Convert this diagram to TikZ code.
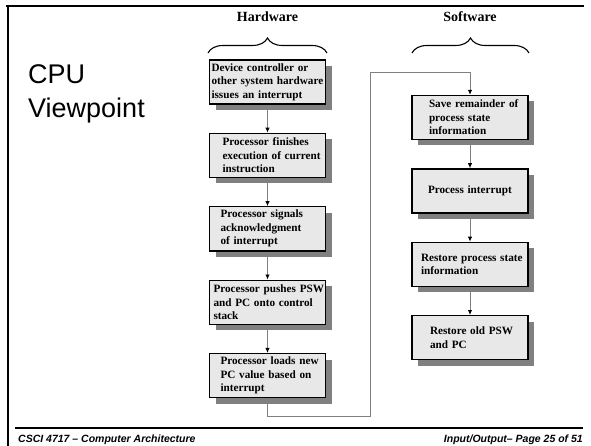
\documentclass[tikz,border=0pt]{standalone}
\usepackage{fontspec}
\setmainfont{Liberation Serif}
\setsansfont{Liberation Sans}
\usetikzlibrary{positioning,shadows,arrows.meta,decorations.pathreplacing}

\begin{document}
\begin{tikzpicture}[
    x=1pt, y=-1pt,
    stepbox/.style={draw=black, line width=1.4pt, fill=black!9, rectangle,
      minimum width=116pt, minimum height=44pt, text width=112pt,
      inner xsep=2pt, inner ysep=0pt, align=left,
      font=\fontsize{11.2}{13.5}\selectfont\bfseries,
      general shadow={fill=black!50, shadow xshift=6pt, shadow yshift=-6pt}},
    flow/.style={draw=black!50, line width=0.9pt,
      -{Latex[length=5pt,width=4.5pt,color=black]}},
    brace/.style={decorate, decoration={brace, amplitude=15pt}, line width=1.1pt},
    head/.style={font=\fontsize{14}{16}\selectfont\bfseries},
    foot/.style={font=\sffamily\bfseries\itshape\fontsize{10.5}{12}\selectfont, inner sep=0pt},
    node distance=28pt,
  ]
  \useasboundingbox[fill=white] (0,0) rectangle (591,446);

  % slide frame
  \draw[line width=2.5pt] (6,5.8) -- (584,5.8);
  \draw[line width=2.5pt] (7.8,5) -- (7.8,446);
  \draw[line width=2pt] (15,428) -- (583,428);

  \node[anchor=base west, align=left, inner sep=0pt,
    font=\sffamily\fontsize{27}{34}\selectfont] (title) at (28,118) {CPU\\ Viewpoint};

  % column headings
  \node[head] (hwlabel) at (267.5,17) {Hardware};
  \node[head] (swlabel) at (470,17) {Software};
  \draw[brace] (208,53) -- (327,53);
  \draw[brace] (412,53) -- (529,53);

  % hardware steps
  \node[stepbox] (hw1) at (267.5,82) {Device controller or\\ \mbox{other system hardware}\\ issues an interrupt};
  \node[stepbox, below=of hw1] (hw2) {\leftskip=11pt Processor finishes\\ execution of current\\ instruction\par};
  \node[stepbox, below=of hw2] (hw3) {\leftskip=9pt Processor signals\\ acknowledgment\\ of interrupt\par};
  \node[stepbox, below=of hw3] (hw4) {\leftskip=2pt \mbox{Processor pushes PSW}\\ and PC onto control\\ stack\par};
  \node[stepbox, below=of hw4] (hw5) {\leftskip=9pt Processor loads new\\ PC value based on\\ interrupt\par};

  % software steps
  \node[stepbox] (sw1) at (470,117.5) {\leftskip=15pt Save remainder of\\ process state\\ information\par};
  \node[stepbox, below=of sw1] (sw2) {\leftskip=14pt Process interrupt\par};
  \node[stepbox, below=of sw2] (sw3) {\leftskip=7pt \mbox{Restore process state}\\ information\par};
  \node[stepbox, below=of sw3] (sw4) {\leftskip=16pt Restore old PSW\\ and PC\par};

  \draw[flow] (hw1) -- (hw2);
  \draw[flow] (hw2) -- (hw3);
  \draw[flow] (hw3) -- (hw4);
  \draw[flow] (hw4) -- (hw5);
  \draw[flow] (sw1) -- (sw2);
  \draw[flow] (sw2) -- (sw3);
  \draw[flow] (sw3) -- (sw4);

  % return path to software column
  \coordinate (bend1) at (370,416);
  \coordinate (bend2) at (370,72);
  \draw[flow] (hw5.south) |- (bend1) -- (bend2) -| (sw1.north);

  % footer
  \node[foot, anchor=base west] (course) at (18,442) {CSCI 4717 -- Computer Architecture};
  \node[foot, anchor=base east] (page) at (583,442) {Input/Output-- Page 25 of 51};
\end{tikzpicture}
\end{document}
